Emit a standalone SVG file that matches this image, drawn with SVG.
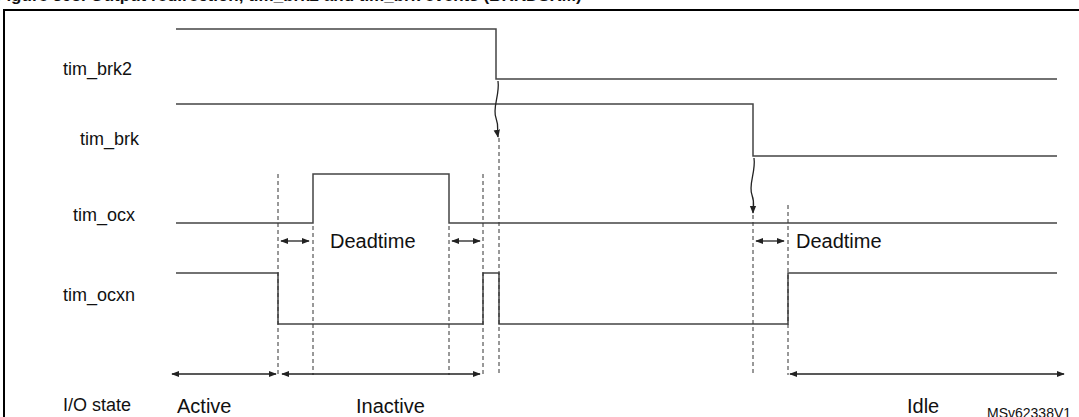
<svg xmlns="http://www.w3.org/2000/svg" width="1079" height="417" viewBox="0 0 1079 417">
<style>
text{font-family:"Liberation Sans",Arial,sans-serif;fill:#111}
.lbl{font-size:18px}
.big{font-size:20px}
.sig{fill:none;stroke:#444;stroke-width:1.5}
.dash{stroke:#333;stroke-width:1;stroke-dasharray:4,3}
.arr{stroke:#222;stroke-width:1.3;marker-start:url(#ah);marker-end:url(#ah)}
.wave{fill:none;stroke:#222;stroke-width:1.3;marker-end:url(#ah)}
</style>
<defs>
<marker id="ah" viewBox="0 0 10 10" refX="9" refY="5" markerWidth="8" markerHeight="8" orient="auto-start-reverse" markerUnits="userSpaceOnUse"><path d="M0,1 L10,5 L0,9 Z" fill="#222"/></marker>
</defs>
<rect width="1079" height="417" fill="#fff"/>
<text x="-4" y="1" font-size="17" font-weight="bold">Figure 398. Output redirection, tim_brk2 and tim_brk events (BRKDSRM)</text>
<rect x="4" y="10" width="1090" height="420" fill="none" stroke="#000" stroke-width="2"/>
<g id="labels" class="lbl">
<text x="63" y="75">tim_brk2</text>
<text x="80" y="145">tim_brk</text>
<text x="73" y="221">tim_ocx</text>
<text x="63" y="301">tim_ocxn</text>
<text x="63" y="411">I/O state</text>
</g>
<g id="tim_brk2"><path class="sig" d="M176,29 H496 V79 H1057"/></g>
<g id="tim_brk"><path class="sig" d="M176,104 H753 V156 H1057"/></g>
<g id="tim_ocx"><path class="sig" d="M176,223 H313 V174 H449 V223 H1057"/></g>
<g id="tim_ocxn"><path class="sig" d="M176,273 H278 V324 H483 V273 H499 V324 H788 V273 H1057"/></g>
<g id="connectors">
<line class="dash" x1="278" y1="174" x2="278" y2="375"/>
<line class="dash" x1="313" y1="226" x2="313" y2="375"/>
<line class="dash" x1="449" y1="226" x2="449" y2="375"/>
<line class="dash" x1="483" y1="174" x2="483" y2="375"/>
<line class="dash" x1="499" y1="138" x2="499" y2="375"/>
<line class="dash" x1="753" y1="208" x2="753" y2="375"/>
<line class="dash" x1="788" y1="205" x2="788" y2="375"/>
<path class="wave" d="M498,81 C500,95 492,108 496,118 C499,126 497,131 498,137"/>
<path class="wave" d="M754,158 C756,172 748,185 752,195 C755,203 753,207 753,213"/>
<line class="arr" x1="281" y1="241" x2="309" y2="241"/>
<line class="arr" x1="452" y1="241" x2="480" y2="241"/>
<line class="arr" x1="756" y1="241" x2="784" y2="241"/>
<line class="arr" x1="172" y1="374" x2="276" y2="374"/>
<line class="arr" x1="282" y1="374" x2="480" y2="374"/>
<line class="arr" x1="790" y1="374" x2="1064" y2="374"/>
</g>
<g id="texts" class="big">
<text x="330" y="248">Deadtime</text>
<text x="796" y="248">Deadtime</text>
<text x="177" y="413">Active</text>
<text x="356" y="413">Inactive</text>
<text x="907" y="413">Idle</text>
</g>
<text x="987" y="418" font-size="14">MSv62338V1</text>
</svg>
